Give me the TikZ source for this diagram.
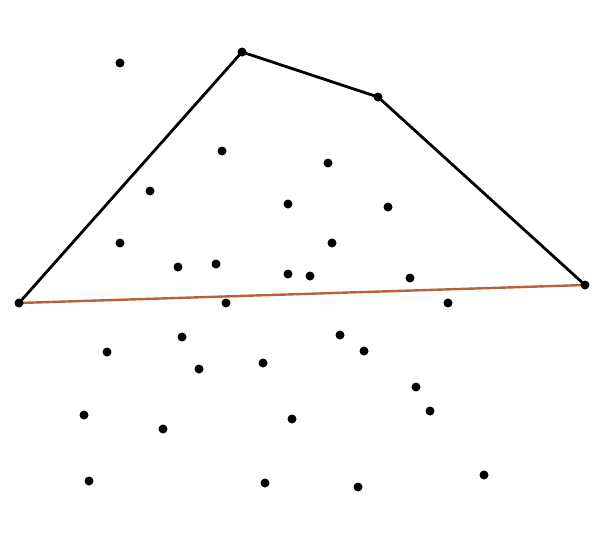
\documentclass[tikz,border=0pt]{standalone}
\definecolor{hullbrown}{RGB}{184,98,58}
\begin{document}
\begin{tikzpicture}[x=1pt,y=-1pt,
  pt/.style={circle,fill=black,inner sep=0pt,minimum size=9pt},
  hull/.style={line width=2.8pt,black,line join=round},
  base/.style={line width=2.4pt,hullbrown}]
\useasboundingbox (0,0) rectangle (596,552);
% vertices
\coordinate (v1) at (19,303);
\coordinate (v2) at (242,52);
\coordinate (v3) at (378,97);
\coordinate (v4) at (585,285);
\draw[base] (v1) -- (v4);
\draw[hull] (v1) -- (v2) -- (v3) -- (v4);
\foreach \n in {v1,v2,v3,v4} \node[pt] (\n dot) at (\n) {};
% other points
\foreach \x/\y [count=\i] in {120/63,222/151,328/163,150/191,288/204,388/207,120/243,332/243,178/267,216/264,288/274,310/276,410/278,226/303,448/303,182/337,107/352,340/335,364/351,199/369,263/363,416/387,430/411,84/415,163/429,292/419,89/481,265/483,358/487,484/475}
  \node[pt] (p\i) at (\x,\y) {};
\end{tikzpicture}
\end{document}
